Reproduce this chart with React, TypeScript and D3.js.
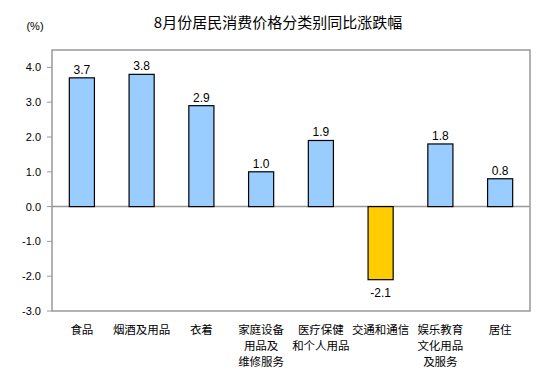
import React from "react";
import * as d3 from "d3";

const categories = ["食品", "烟酒及用品", "衣着", "家庭设备\n用品及\n维修服务", "医疗保健\n和个人用品", "交通和通信", "娱乐教育\n文化用品\n及服务", "居住"];
const values = [3.7, 3.8, 2.9, 1.0, 1.9, -2.1, 1.8, 0.8];
const yTicks = [-3, -2, -1, 0, 1, 2, 3, 4];
const title = "8月份居民消费价格分类别同比涨跌幅";
const unit = "(%)";

export default function App() {
  const W = 551, H = 380;
  const left = 52, right = 530, top = 50, bottom = 311;
  const x = d3.scaleBand<string>().domain(categories).range([left, right]).paddingInner(0.58).paddingOuter(0.29);
  const y = d3.scaleLinear().domain([-3, 4.5]).range([bottom, top]);
  const font = "'Liberation Sans', Arial, sans-serif";
  const cjk = "'Noto Sans CJK SC', sans-serif";
  return (
    <svg width={W} height={H} style={{ position: "absolute", left: 0, top: 0 }}>
      <rect width={W} height={H} fill="#fff" />
      <text x={278} y={28} textAnchor="middle" fontFamily={cjk} fontSize={15} fill="#000">{title}</text>
      <text x={35} y={30} textAnchor="middle" fontFamily={font} fontSize={11} fill="#000">{unit}</text>
      <rect x={left} y={top} width={right - left} height={bottom - top} fill="none" stroke="#999" strokeWidth={1.5} />
      <line x1={left} x2={right} y1={y(0)} y2={y(0)} stroke="#999" strokeWidth={1.5} />
      {yTicks.map((t) => (
        <g key={t}>
          <line x1={left - 5} x2={left} y1={y(t)} y2={y(t)} stroke="#999" strokeWidth={1} />
          <text x={41} y={y(t) + 4} textAnchor="end" fontFamily={font} fontSize={11} fill="#000">{t.toFixed(1)}</text>
        </g>
      ))}
      {categories.map((c, i) => {
        const v = values[i];
        const bx = x(c)!;
        const bw = x.bandwidth();
        const y0 = y(Math.max(0, v));
        const h = Math.abs(y(v) - y(0));
        const cx = bx + bw / 2;
        return (
          <g key={c}>
            <rect x={bx} y={y0} width={bw} height={h} fill={v < 0 ? "#FFCC00" : "#99CCFF"} stroke="#000" strokeWidth={1.2} />
            <text x={cx} y={v < 0 ? y(v) + 17 : y(v) - 4} textAnchor="middle" fontFamily={font} fontSize={12} fill="#000">{v.toFixed(1)}</text>
            {c.split("\n").map((line, j) => (
              <text key={j} x={cx} y={334 + j * 16} textAnchor="middle" fontFamily={cjk} fontSize={11.5} fill="#000">{line}</text>
            ))}
          </g>
        );
      })}
    </svg>
  );
}
